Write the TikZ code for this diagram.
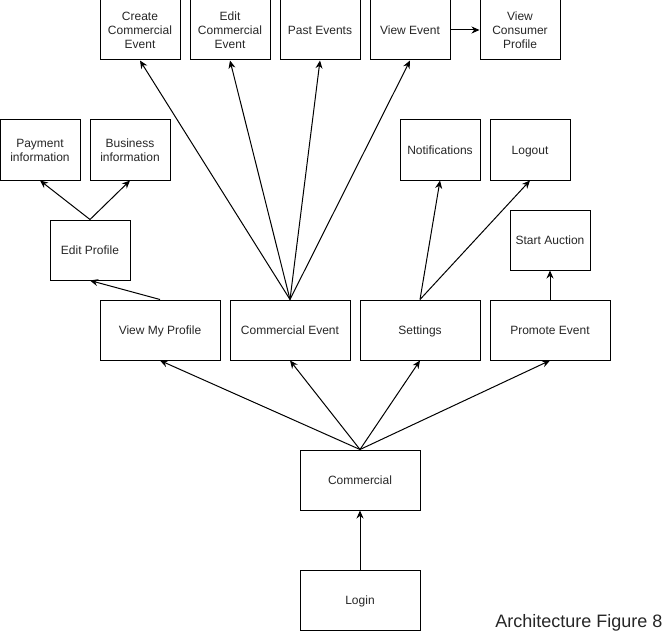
\documentclass[tikz,border=0pt]{standalone}
\usepackage{fontspec}
\setmainfont{Liberation Sans}
\usetikzlibrary{positioning,arrows.meta}

\begin{document}
\begin{tikzpicture}[x=1pt, y=-1pt, line width=1pt,
    box/.style={draw, minimum width=80pt, minimum height=60pt, inner sep=0pt,
        align=center, font=\fontsize{12}{14}\selectfont, text=black!85,
        execute at begin node={\rule{0pt}{11.6pt}}, text depth=3pt},
    stackbox/.style={box, text depth=-1pt},
    widebox/.style={box, minimum width=120pt},
    link/.style={-{Stealth[length=8pt,width=7pt]}}]
    \useasboundingbox (0,0) rectangle (671,631);
    % top row
    \node[stackbox] at (140,30) (CreateEvent) {Create\\Commercial\\Event};
    \node[stackbox] at (230,30) (EditEvent) {Edit\\Commercial\\Event};
    \node[box] at (320,30) (PastEvents) {Past Events};
    \node[box] at (410,30) (ViewEvent) {View Event};
    \node[stackbox] at (520,30) (ConsumerProfile) {View\\Consumer\\Profile};
    % second row
    \node[stackbox] at (40,150) (Payment) {Payment\\information};
    \node[stackbox] at (130,150) (Business) {Business\\information};
    \node[box] at (440,150) (Notifications) {Notifications};
    \node[box] at (530,150) (Logout) {Logout};
    \node[box] at (90,250) (EditProfile) {Edit Profile};
    \node[box] at (550,240) (StartAuction) {Start Auction};
    % main row
    \node[widebox] at (160,330) (MyProfile) {View My Profile};
    \node[widebox] at (290,330) (CommercialEvent) {Commercial Event};
    \node[widebox] at (420,330) (Settings) {Settings};
    \node[widebox] at (550,330) (Promote) {Promote Event};
    \node[widebox] at (360,480) (Commercial) {Commercial};
    \node[widebox] at (360,600) (Login) {Login};

    \draw[link] (Login) -- (Commercial);
    \foreach \n in {MyProfile,CommercialEvent,Settings,Promote}
        \draw[link] (Commercial.north) -- (\n.south);
    \draw[link] (MyProfile.north) -- (EditProfile.south);
    \draw[link] (EditProfile.north) -- (Payment.south);
    \draw[link] (EditProfile.north) -- (Business.south);
    \foreach \n in {CreateEvent,EditEvent,PastEvents,ViewEvent}
        \draw[link] (CommercialEvent.north) -- (\n.south);
    \draw[link] (ViewEvent) -- (ConsumerProfile);
    \draw[link] (Settings.north) -- (Notifications.south);
    \draw[link] (Settings.north) -- (Logout.south);
    \draw[link] (Promote) -- (StartAuction);

    \node[anchor=base east, inner sep=0pt, font=\fontsize{18}{20}\selectfont, text=black!85] at (663,627) (Caption) {Architecture Figure 8};
\end{tikzpicture}
\end{document}
